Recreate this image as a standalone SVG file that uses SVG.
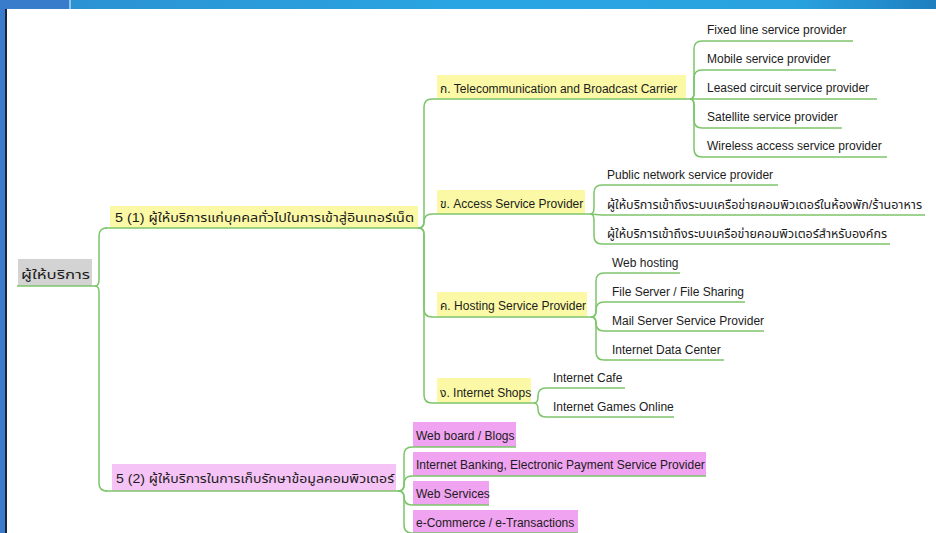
<svg xmlns="http://www.w3.org/2000/svg" width="936" height="533" viewBox="0 0 936 533">
<defs>
<linearGradient id="bar" x1="0" y1="0" x2="1" y2="0">
<stop offset="0" stop-color="#2b8fcf"/>
<stop offset="0.5" stop-color="#2aa5e3"/>
<stop offset="0.85" stop-color="#2aa2e0"/>
<stop offset="1" stop-color="#1f7fbf"/>
</linearGradient>
<style>
.t{font-family:'Liberation Sans','Noto Sans Thai','Noto Sans','DejaVu Sans',sans-serif;font-size:12px;fill:#1c1c1c}
.th{font-size:13px}
.ln{fill:none;stroke:#7cc56a;stroke-width:1.5}
.y{fill:#fbf9a6}
.g{fill:#d3d3d3}
.p1{fill:#f5c3f5}
.p2{fill:#f0a3f0}
</style>
</defs>
<rect x="0" y="0" width="936" height="533" fill="#ffffff"/>
<rect x="0" y="0" width="936" height="9" fill="url(#bar)"/>
<rect x="0" y="0" width="69" height="9" fill="#3a7ccc"/>
<rect x="69" y="0" width="2" height="9" fill="#8fc3e8"/>
<rect x="0" y="9" width="5" height="524" fill="#3a7ccc"/>
<rect x="5" y="9" width="2" height="524" fill="#1b2436"/>

<g id="connectors">
<path class="ln" d="M95,286 Q99,286 99,280 L99,236 Q99,228 107,228"/>
<path class="ln" d="M95,286 Q99,286 99,292 L99,483 Q99,491 107,491"/>
<path class="ln" d="M418,228 Q424,228 424,222 L424,107 Q424,99 432,99"/>
<path class="ln" d="M418,228 Q424,228 424,222 Q424,214 432,214"/>
<path class="ln" d="M418,228 Q424,228 424,234 L424,309 Q424,317 432,317"/>
<path class="ln" d="M418,228 Q424,228 424,234 L424,395 Q424,403 432,403"/>
<path class="ln" d="M690,99 Q694,99 694,93 L694,49 Q694,41 702,41"/>
<path class="ln" d="M690,99 Q694,99 694,93 L694,78 Q694,70 702,70"/>
<path class="ln" d="M690,99 L702,99"/>
<path class="ln" d="M690,99 Q694,99 694,105 L694,120 Q694,128 702,128"/>
<path class="ln" d="M690,99 Q694,99 694,105 L694,149 Q694,157 702,157"/>
<path class="ln" d="M590,214 Q594,214 594,208 L594,193 Q594,185 602,185"/>
<path class="ln" d="M590,214 L602,215"/>
<path class="ln" d="M590,214 Q594,214 594,220 L594,236 Q594,244 602,244"/>
<path class="ln" d="M591,317 Q596,317 596,311 L596,281 Q596,273 604,273"/>
<path class="ln" d="M591,317 Q596,317 596,311 L596,310 Q596,302 604,302"/>
<path class="ln" d="M591,317 Q596,317 596,323 Q596,331 604,331"/>
<path class="ln" d="M591,317 Q596,317 596,323 L596,352 Q596,360 604,360"/>
<path class="ln" d="M534,403 Q538,403 538,397 L538,396 Q538,388 546,388"/>
<path class="ln" d="M534,403 Q538,403 538,409 Q538,417 546,417"/>
<path class="ln" d="M398,491 Q404,491 404,485 L404,455 Q404,447 412,447"/>
<path class="ln" d="M398,491 Q404,491 404,485 L404,484 Q404,476 412,476"/>
<path class="ln" d="M398,491 Q404,491 404,497 Q404,505 412,505"/>
<path class="ln" d="M398,491 Q404,491 404,497 L404,525 Q404,533 412,533"/>
</g>

<g id="root">
<rect class="g" x="18" y="259" width="74" height="27"/>
<line class="ln" x1="17" y1="286" x2="95" y2="286"/>
<text class="t th" x="21" y="279" textLength="69" lengthAdjust="spacingAndGlyphs">ผู้ให้บริการ</text>
</g>

<g id="n51">
<rect class="y" x="110" y="206" width="308" height="22"/>
<line class="ln" x1="105" y1="228" x2="418" y2="228"/>
<text class="t th" x="115" y="222" textLength="299" lengthAdjust="spacingAndGlyphs">5 (1) ผู้ให้บริการแก่บุคคลทั่วไปในการเข้าสู่อินเทอร์เน็ต</text>
</g>

<g id="n52">
<rect class="p1" x="112" y="464" width="284" height="27"/>
<line class="ln" x1="105" y1="491" x2="398" y2="491"/>
<text class="t th" x="116" y="483" textLength="278" lengthAdjust="spacingAndGlyphs">5 (2) ผู้ให้บริการในการเก็บรักษาข้อมูลคอมพิวเตอร์</text>
</g>

<g id="nk1">
<rect class="y" x="437" y="75" width="249" height="24"/>
<line class="ln" x1="432" y1="99" x2="690" y2="99"/>
<text class="t" x="440" y="93">ก. Telecommunication and Broadcast Carrier</text>
</g>
<g id="k1a"><line class="ln" x1="702" y1="41" x2="853" y2="41"/><text class="t" x="707" y="34">Fixed line service provider</text></g>
<g id="k1b"><line class="ln" x1="702" y1="70" x2="836" y2="70"/><text class="t" x="707" y="63">Mobile service provider</text></g>
<g id="k1c"><line class="ln" x1="702" y1="99" x2="877" y2="99"/><text class="t" x="707" y="92">Leased circuit service provider</text></g>
<g id="k1d"><line class="ln" x1="702" y1="128" x2="842" y2="128"/><text class="t" x="707" y="121">Satellite service provider</text></g>
<g id="k1e"><line class="ln" x1="702" y1="157" x2="887" y2="157"/><text class="t" x="707" y="150">Wireless access service provider</text></g>

<g id="nk2">
<rect class="y" x="437" y="190" width="148" height="24"/>
<line class="ln" x1="432" y1="214" x2="590" y2="214"/>
<text class="t" x="440" y="208">ข. Access Service Provider</text>
</g>
<g id="k2a"><line class="ln" x1="602" y1="185" x2="778" y2="185"/><text class="t" x="607" y="179">Public network service provider</text></g>
<g id="k2b"><line class="ln" x1="602" y1="215" x2="925" y2="215"/><text class="t" x="607" y="209" textLength="315" lengthAdjust="spacingAndGlyphs">ผู้ให้บริการเข้าถึงระบบเครือข่ายคอมพิวเตอร์ในห้องพัก/ร้านอาหาร</text></g>
<g id="k2c"><line class="ln" x1="602" y1="244" x2="890" y2="244"/><text class="t" x="607" y="238" textLength="280" lengthAdjust="spacingAndGlyphs">ผู้ให้บริการเข้าถึงระบบเครือข่ายคอมพิวเตอร์สำหรับองค์กร</text></g>

<g id="nk3">
<rect class="y" x="437" y="292" width="150" height="25"/>
<line class="ln" x1="432" y1="317" x2="591" y2="317"/>
<text class="t" x="440" y="310">ค. Hosting Service Provider</text>
</g>
<g id="k3a"><line class="ln" x1="604" y1="273" x2="680" y2="273"/><text class="t" x="612" y="267">Web hosting</text></g>
<g id="k3b"><line class="ln" x1="604" y1="302" x2="745" y2="302"/><text class="t" x="612" y="296">File Server / File Sharing</text></g>
<g id="k3c"><line class="ln" x1="604" y1="331" x2="764" y2="331"/><text class="t" x="612" y="325">Mail Server Service Provider</text></g>
<g id="k3d"><line class="ln" x1="604" y1="360" x2="724" y2="360"/><text class="t" x="612" y="354">Internet Data Center</text></g>

<g id="nk4">
<rect class="y" x="437" y="378" width="94" height="25"/>
<line class="ln" x1="432" y1="403" x2="534" y2="403"/>
<text class="t" x="440" y="397">ง. Internet Shops</text>
</g>
<g id="k4a"><line class="ln" x1="546" y1="388" x2="625" y2="388"/><text class="t" x="553" y="382">Internet Cafe</text></g>
<g id="k4b"><line class="ln" x1="546" y1="417" x2="674" y2="417"/><text class="t" x="553" y="411">Internet Games Online</text></g>

<g id="s1"><rect class="p2" x="413" y="422" width="103" height="25"/><line class="ln" x1="412" y1="447" x2="516" y2="447"/><text class="t" x="416" y="440">Web board / Blogs</text></g>
<g id="s2"><rect class="p2" x="413" y="452" width="293" height="24"/><line class="ln" x1="412" y1="476" x2="706" y2="476"/><text class="t" x="416" y="469">Internet Banking, Electronic Payment Service Provider</text></g>
<g id="s3"><rect class="p2" x="413" y="481" width="76" height="24"/><line class="ln" x1="412" y1="505" x2="489" y2="505"/><text class="t" x="416" y="498">Web Services</text></g>
<g id="s4"><rect class="p2" x="413" y="510" width="165" height="23"/><line class="ln" x1="412" y1="533" x2="578" y2="533"/><text class="t" x="416" y="527">e-Commerce / e-Transactions</text></g>
</svg>
